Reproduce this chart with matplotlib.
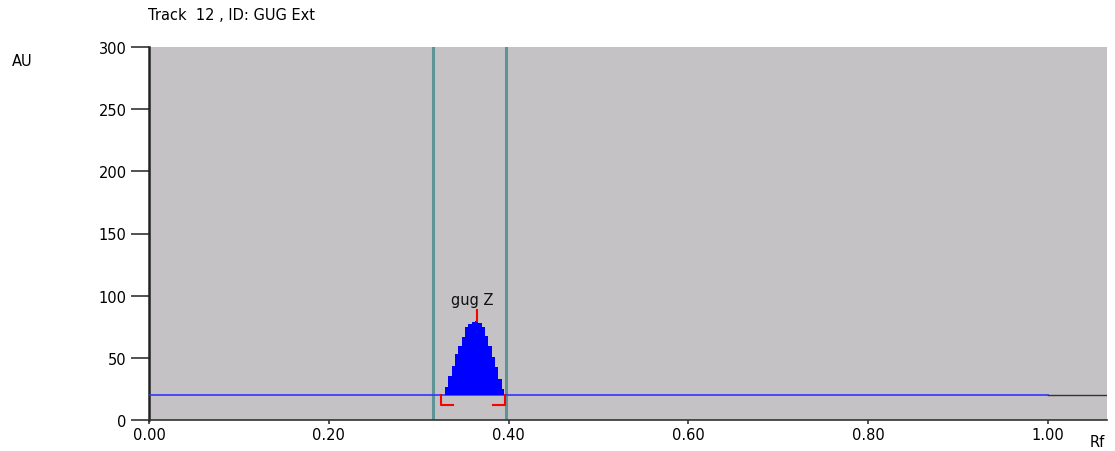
import matplotlib
matplotlib.use("Agg")
import matplotlib.pyplot as plt
import numpy as np

# Data
title = "Track  12 , ID: GUG Ext"
peak_label = "gug Z"
baseline = 20.0
window_lines = [0.316, 0.397]
peak_rf = [0.3267, 0.3311, 0.3348, 0.3385, 0.3422, 0.3459, 0.3496, 0.3534, 0.3571,
           0.3608, 0.3645, 0.3682, 0.3719, 0.3756, 0.3793, 0.3830, 0.3867, 0.3904,
           0.3941, 0.3960]
peak_au = [20.4, 26.3, 35.7, 43.7, 53.1, 59.8, 66.5, 74.5, 77.2, 79.1, 79.9, 78.0,
           74.5, 67.8, 59.8, 50.4, 42.4, 33.0, 24.9, 20.4]
peak_start, peak_max_rf, peak_end = 0.325, 0.365, 0.396
peak_max_au = 80.0
xticks = [0.0, 0.2, 0.4, 0.6, 0.8, 1.0]
xticklabels = ["0.00", "0.20", "0.40", "0.60", "0.80", "1.00"]
yticks = [0, 50, 100, 150, 200, 250, 300]

plt.rcParams['font.family'] = ['DejaVu Sans']

fs = 10.5
fig = plt.figure(figsize=(11.15, 4.52), dpi=100)
ax = fig.add_axes([149/1115, 31/452, 958/1115, 373/452])
ax.set_facecolor('#c4c2c5')
ax.set_xlim(0, 1.0656)
ax.set_ylim(0, 300)

for s in ['top', 'right']:
    ax.spines[s].set_visible(False)
ax.spines['left'].set_linewidth(1.8)
ax.spines['left'].set_color('#222222')
ax.spines['bottom'].set_linewidth(1.2)
ax.spines['bottom'].set_color('#333333')

# window lines
for xv in window_lines:
    ax.axvline(xv, color='#5e9496', lw=2.2, zorder=2)

# baseline
ax.plot([0, 1.0], [baseline, baseline], color='#3333ff', lw=1.2, zorder=3)
ax.plot([1.0, 1.0656], [baseline, baseline], color='#333333', lw=1.0, zorder=3)

# peak fill
ax.fill_between(peak_rf, baseline, peak_au, step='mid', color='#0000ff', lw=0, zorder=4)

# markers
ax.plot([peak_max_rf, peak_max_rf], [peak_max_au, peak_max_au + 8.5], color='red', lw=1.5, zorder=5)
ax.plot([peak_start, peak_start, peak_start + 0.013], [baseline, 12, 12], color='red', lw=1.5, zorder=5)
ax.plot([peak_end, peak_end, peak_end - 0.013], [baseline, 12, 12], color='red', lw=1.5, zorder=5)
ax.text(0.360, 97, peak_label, ha='center', va='center', fontsize=fs, color='#111111', zorder=6)

ax.set_xticks(xticks)
ax.set_xticklabels(xticklabels)
ax.set_yticks(yticks)
ax.tick_params(axis='y', length=13, width=1.2, pad=3, labelsize=fs, color='#333333')
ax.tick_params(axis='x', length=3, width=1.2, pad=2, labelsize=fs, color='#333333')

fig.text(22/1115, 1 - 62/452, "AU", ha='center', va='center', fontsize=fs)
fig.text(1097/1115, 1 - 443/452, "Rf", ha='center', va='center', fontsize=fs)
fig.text(148/1115, 1 - 15/452, title, ha='left', va='center', fontsize=fs)

fig.savefig("out.png", dpi=100)
